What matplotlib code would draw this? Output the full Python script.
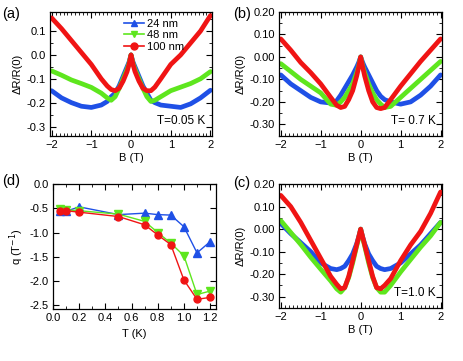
import numpy as np
import matplotlib.pyplot as plt
from matplotlib.ticker import MultipleLocator, FormatStrFormatter
from matplotlib.lines import Line2D

plt.rcParams['font.family'] = ['Liberation Sans', 'DejaVu Sans']
plt.rcParams['font.size'] = 8

# colours / labels
c_blue, c_green, c_red = '#1f50e6', '#5ee61e', '#f01414'
labels = ['24 nm', '48 nm', '100 nm']

# field grid (T) for the magnetoresistance curves
B = [-2.0, -1.75, -1.5, -1.25, -1.0, -0.75, -0.6, -0.5, -0.4, -0.3, -0.2, -0.1, -0.05, 0.0,
     0.05, 0.1, 0.2, 0.3, 0.4, 0.5, 0.6, 0.75, 1.0, 1.25, 1.5, 1.75, 2.0]

# (a) T = 0.05 K
a_24 = [-0.15, -0.18, -0.20, -0.215, -0.22, -0.21, -0.195, -0.175, -0.16, -0.13, -0.09, -0.05, -0.03, 0.0,
        -0.03, -0.05, -0.09, -0.13, -0.16, -0.19, -0.2, -0.21, -0.215, -0.22, -0.205, -0.18, -0.148]
a_48 = [-0.067, -0.085, -0.105, -0.12, -0.136, -0.16, -0.18, -0.19, -0.175, -0.14, -0.10, -0.06, -0.035, 0.0,
        -0.035, -0.06, -0.10, -0.14, -0.175, -0.195, -0.19, -0.175, -0.15, -0.135, -0.12, -0.10, -0.07]
a_100 = [0.155, 0.11, 0.06, 0.01, -0.04, -0.10, -0.13, -0.145, -0.15, -0.14, -0.11, -0.07, -0.04, 0.0,
         -0.04, -0.07, -0.11, -0.14, -0.15, -0.15, -0.135, -0.10, -0.04, 0.0, 0.05, 0.10, 0.165]

# (b) T = 0.7 K
b_24 = [-0.08, -0.12, -0.15, -0.18, -0.20, -0.205, -0.195, -0.17, -0.14, -0.11, -0.08, -0.045, -0.025, 0.0,
        -0.025, -0.045, -0.08, -0.115, -0.15, -0.175, -0.19, -0.20, -0.21, -0.20, -0.17, -0.13, -0.08]
b_48 = [-0.03, -0.065, -0.10, -0.13, -0.16, -0.21, -0.215, -0.20, -0.18, -0.15, -0.12, -0.07, -0.04, 0.0,
        -0.04, -0.07, -0.12, -0.16, -0.19, -0.21, -0.225, -0.22, -0.18, -0.14, -0.10, -0.06, -0.02]
b_100 = [0.08, 0.03, -0.025, -0.07, -0.12, -0.18, -0.215, -0.225, -0.22, -0.19, -0.15, -0.085, -0.045, 0.0,
         -0.045, -0.085, -0.15, -0.20, -0.225, -0.23, -0.225, -0.19, -0.13, -0.075, -0.02, 0.03, 0.08]

# (c) T = 1.0 K
c_24 = [0.025, -0.02, -0.06, -0.10, -0.15, -0.175, -0.18, -0.175, -0.165, -0.14, -0.11, -0.065, -0.035, 0.0,
        -0.035, -0.065, -0.11, -0.14, -0.165, -0.175, -0.18, -0.175, -0.15, -0.11, -0.07, -0.02, 0.03]
c_48 = [0.038, -0.015, -0.068, -0.125, -0.178, -0.23, -0.265, -0.28, -0.26, -0.215, -0.15, -0.075, -0.04, 0.0,
        -0.04, -0.075, -0.15, -0.215, -0.26, -0.28, -0.28, -0.25, -0.19, -0.135, -0.08, -0.03, 0.03]
c_100 = [0.15, 0.10, 0.03, -0.05, -0.13, -0.21, -0.245, -0.265, -0.26, -0.21, -0.14, -0.07, -0.035, 0.0,
         -0.035, -0.07, -0.14, -0.21, -0.26, -0.265, -0.25, -0.22, -0.14, -0.07, -0.01, 0.07, 0.165]

# (d) q vs T
T_q = [0.05, 0.1, 0.2, 0.5, 0.7, 0.8, 0.9, 1.0, 1.1, 1.2]
q_24 = [-0.55, -0.56, -0.47, -0.63, -0.60, -0.63, -0.64, -0.88, -1.42, -1.19]
q_48 = [-0.52, -0.53, -0.55, -0.62, -0.77, -1.00, -1.22, -1.48, -2.28, -2.21]
q_100 = [-0.55, -0.55, -0.58, -0.67, -0.84, -1.05, -1.25, -1.98, -2.38, -2.34]

fig = plt.figure(figsize=(4.63, 3.61), dpi=100)
ax_a = fig.add_axes([0.108, 0.623, 0.350, 0.344])
ax_b = fig.add_axes([0.603, 0.623, 0.352, 0.344])
ax_d = fig.add_axes([0.1145, 0.144, 0.352, 0.346])
ax_c = fig.add_axes([0.603, 0.147, 0.352, 0.343])


def style(ax):
    ax.tick_params(which='both', direction='in', top=True, right=True, labelsize=8, pad=3)
    ax.tick_params(which='major', length=4, width=0.8)
    ax.tick_params(which='minor', length=2, width=0.6)
    for s in ax.spines.values():
        s.set_linewidth(0.9)


def mr_panel(ax, curves, ylim, fmt, tlabel):
    for y, col in zip(curves, [c_blue, c_green, c_red]):
        ax.plot(B, y, color=col, lw=3.4, solid_joinstyle='round', solid_capstyle='round')
    ax.set_xlim(-2.04, 2.04)
    ax.set_ylim(*ylim)
    ax.xaxis.set_major_locator(MultipleLocator(1))
    ax.xaxis.set_minor_locator(MultipleLocator(0.1))
    ax.yaxis.set_major_locator(MultipleLocator(0.1))
    ax.yaxis.set_minor_locator(MultipleLocator(0.05))
    ax.yaxis.set_major_formatter(FormatStrFormatter(fmt))
    ax.set_xlabel('B (T)', labelpad=2)
    ax.set_ylabel('ΔR/R(0)', labelpad=3)
    ax.text(0.96, 0.07, tlabel, transform=ax.transAxes, ha='right', va='bottom', fontsize=8.5)
    style(ax)


mr_panel(ax_a, [a_24, a_48, a_100], (-0.34, 0.18), '%.1f', 'T=0.05 K')
mr_panel(ax_b, [b_24, b_48, b_100], (-0.352, 0.20), '%.2f', 'T= 0.7 K')
mr_panel(ax_c, [c_24, c_48, c_100], (-0.35, 0.20), '%.2f', 'T=1.0 K')

handles = [Line2D([], [], color=c_blue, marker='^', ms=5, lw=1.2),
           Line2D([], [], color=c_green, marker='v', ms=5, lw=1.2),
           Line2D([], [], color=c_red, marker='o', ms=5, lw=1.2)]
ax_a.legend(handles, labels, loc='upper right', bbox_to_anchor=(0.87, 1.0), frameon=False,
            fontsize=8, handlelength=1.8, handletextpad=0.3, labelspacing=0.15, borderaxespad=0.2)

# (d)
ax_d.plot(T_q, q_24, color=c_blue, marker='^', ms=5.5, lw=1)
ax_d.plot(T_q, q_48, color=c_green, marker='v', ms=5.5, lw=1)
ax_d.plot(T_q, q_100, color=c_red, marker='o', ms=5, lw=1)
ax_d.set_xlim(0, 1.245)
ax_d.set_ylim(-2.58, 0)
ax_d.xaxis.set_major_locator(MultipleLocator(0.2))
ax_d.xaxis.set_minor_locator(MultipleLocator(0.1))
ax_d.yaxis.set_major_locator(MultipleLocator(0.5))
ax_d.xaxis.set_major_formatter(FormatStrFormatter('%.1f'))
ax_d.yaxis.set_major_formatter(FormatStrFormatter('%.1f'))
ax_d.set_xlabel('T (K)', labelpad=4)
ax_d.set_ylabel('q (T$^{-1}$)', labelpad=3)
style(ax_d)

# panel letters
fig.text(0.004, 0.96, '(a)', fontsize=10.5, va='center')
fig.text(0.503, 0.96, '(b)', fontsize=10.5, va='center')
fig.text(0.004, 0.498, '(d)', fontsize=10.5, va='center')
fig.text(0.503, 0.493, '(c)', fontsize=10.5, va='center')

fig.savefig('out.png', dpi=100)
